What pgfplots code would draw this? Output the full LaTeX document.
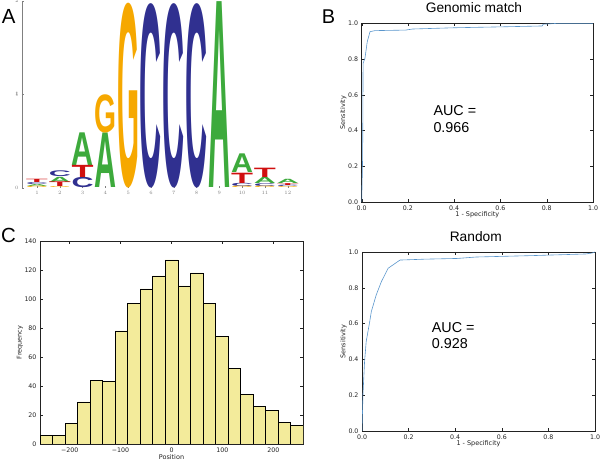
\documentclass[border=0pt]{standalone}
\usepackage{pgfplots}
\pgfplotsset{compat=1.18}
\usepackage{fontspec}
\setmainfont{DejaVu Sans}
\newfontfamily\helv{Liberation Sans}
\definecolor{lgA}{HTML}{3DAA3C}
\definecolor{lgC}{HTML}{303090}
\definecolor{lgG}{HTML}{F6A800}
\definecolor{lgT}{HTML}{D01010}
\definecolor{roccol}{HTML}{5A96CC}
\definecolor{histc}{HTML}{F3EB9B}
\definecolor{axg}{HTML}{222222}

\pgfplotsset{
  logo/.style={only marks, mark=*, mark size=0pt, mark options={draw=none,fill=none},
    visualization depends on={\thisrow{h} \as \hh},
    nodes near coords={\pgfmathsetlengthmacro\LH{\hh*93.7}\resizebox*{22bp}{\LH}{\helv\bfseries #1}},
    every node near coord/.append style={anchor=south, inner sep=0pt, outer sep=0pt, text=lg#1}},
  mplbox/.style={scale only axis, anchor=south west, tick align=inside, major tick length=3bp,
    axis line style={axg, line width=0.5pt}, tick style={axg, line width=0.4pt},
    /pgf/number format/assume math mode=true,
    tick label style={font=\fontsize{6.3}{7}\selectfont, text=axg},
    label style={font=\fontsize{6.5}{7}\selectfont, text=axg}},
  rocaxis/.style={mplbox, xmin=0, xmax=1, ymin=0, ymax=1,
    xtick={0,0.2,0.4,0.6,0.8,1}, ytick={0,0.2,0.4,0.6,0.8,1},
    xticklabel style={/pgf/number format/.cd, fixed, fixed zerofill, precision=1},
    yticklabel style={/pgf/number format/.cd, fixed, fixed zerofill, precision=1},
    xlabel={1 - Specificity}, ylabel={Sensitivity},
    xlabel style={at={(axis description cs:0.5,0)}, anchor=center, yshift=-13bp},
    ylabel style={at={(axis description cs:-0.0795,0.5)}, anchor=center}}
}

\begin{document}
\begin{tikzpicture}
\useasboundingbox (0,0) rectangle (600bp,461bp);

% ---------------- Panel A: sequence logo ----------------
\begin{axis}[at={(22bp,273.3bp)}, anchor=south west, scale only axis,
  width=277.2bp, height=186.7bp, xmin=0.342, xmax=12.5, ymin=0, ymax=2,
  axis x line*=bottom, axis y line*=left,
  x axis line style={draw=none}, y axis line style={gray, line width=0.4pt},
  xtick={1,...,12}, ytick={0,1,2}, tick style={gray, line width=0.3pt},
  major tick length=1.5bp,
  tick label style={font=\fontsize{2.5}{3}\selectfont, text=gray},
  ylabel={bits}, ylabel style={font=\fontsize{2.5}{3}\selectfont, text=gray,
    at={(axis description cs:-0.018,0.5)}, anchor=center},
  clip=false]
\addplot[logo=A] table {
x y h
1 0.014 0.021
2 0.060 0.055
3 0.240 0.350
4 0.000 0.585
9 0.000 1.990
10 0.160 0.200
11 0.045 0.065
12 0.045 0.045
};
\addplot[logo=C] table {
x y h
1 0.035 0.021
2 0.115 0.062
3 0.000 0.110
6 0.000 1.975
7 0.000 1.975
8 0.000 1.975
10 0.015 0.035
11 0.015 0.030
12 0.010 0.015
};
\addplot[logo=G] table {
x y h
1 0.000 0.014
2 0.000 0.010
4 0.585 0.410
5 0.000 1.980
10 0.000 0.015
11 0.000 0.015
12 0.000 0.010
};
\addplot[logo=T] table {
x y h
1 0.056 0.035
2 0.010 0.050
3 0.110 0.130
10 0.050 0.110
11 0.110 0.100
12 0.025 0.020
};
\end{axis}

% ---------------- Panel B top: Genomic match ----------------
\begin{axis}[rocaxis, at={(361.7bp,259bp)}, width=231.3bp, height=178.7bp]
\addplot[roccol, line width=0.6pt, mark=none] coordinates {
(0,0) (0.004,0.25) (0.006,0.776) (0.014,0.804) (0.024,0.897) (0.036,0.953)
(0.057,0.959) (0.19,0.962) (0.22,0.968) (0.40,0.975) (0.60,0.980)
(0.78,0.985) (0.785,0.995) (0.85,1.0) (1,1)
};
\end{axis}

% ---------------- Panel B bottom: Random ----------------
\begin{axis}[rocaxis, at={(362bp,30bp)}, width=233bp, height=179bp]
\addplot[roccol, line width=0.6pt, mark=none] coordinates {
(0,0) (0.004,0.2) (0.011,0.387) (0.018,0.5) (0.033,0.61) (0.04,0.667)
(0.061,0.76) (0.083,0.834) (0.112,0.909) (0.163,0.955) (0.27,0.96)
(0.41,0.964) (0.49,0.972) (0.735,0.98) (0.96,0.989) (0.986,0.994) (1,1)
};
\end{axis}

% ---------------- Panel C: histogram ----------------
\begin{axis}[mplbox, at={(40bp,17bp)}, width=263bp, height=203bp,
  xmin=-258.3, xmax=258.3, ymin=0, ymax=140,
  xtick={-200,-100,0,100,200}, xticklabels={−200,−100,0,100,200},
  ytick={0,20,...,140},
  xlabel={Position}, ylabel={Frequency},
  xlabel style={at={(axis description cs:0.5,0)}, anchor=center, yshift=-13bp},
  ylabel style={at={(axis description cs:-0.076,0.5)}, anchor=center}]
\addplot[ybar interval, fill=histc, draw=black, line width=0.5pt] coordinates {
(-258.3,6) (-233.7,6) (-209.1,14) (-184.5,29) (-159.9,44) (-135.3,43)
(-110.7,78) (-86.1,97) (-61.5,107) (-36.9,116) (-12.3,127) (12.3,109)
(36.9,118) (61.5,97) (86.1,74) (110.7,52) (135.3,34) (159.9,26)
(184.5,23) (209.1,15) (233.7,13) (258.3,13)
};
\end{axis}

% ---------------- texts ----------------
\node[anchor=base, font=\helv\fontsize{13.8}{14}\selectfont, inner sep=0pt] at (474bp,448.3bp) {Genomic match};
\node[anchor=base, font=\helv\fontsize{13.8}{14}\selectfont, inner sep=0pt] at (475.8bp,219.3bp) {Random};
\node[anchor=base west, font=\helv\fontsize{14.4}{15}\selectfont, inner sep=0pt] at (433.3bp,345.3bp) {AUC =};
\node[anchor=base west, font=\helv\fontsize{14.4}{15}\selectfont, inner sep=0pt] at (433.3bp,328.7bp) {0.966};
\node[anchor=base west, font=\helv\fontsize{14.4}{15}\selectfont, inner sep=0pt] at (431.7bp,128.7bp) {AUC =};
\node[anchor=base west, font=\helv\fontsize{14.4}{15}\selectfont, inner sep=0pt] at (431.7bp,112.7bp) {0.928};
\node[anchor=base west, font=\helv\fontsize{20.5}{21}\selectfont, inner sep=0pt] at (1.7bp,437.7bp) {A};
\node[anchor=base west, font=\helv\fontsize{20}{21}\selectfont, inner sep=0pt] at (321.7bp,437.7bp) {B};
\node[anchor=base west, font=\helv\fontsize{20.5}{21}\selectfont, inner sep=0pt] at (1bp,218.3bp) {C};
\end{tikzpicture}
\end{document}
